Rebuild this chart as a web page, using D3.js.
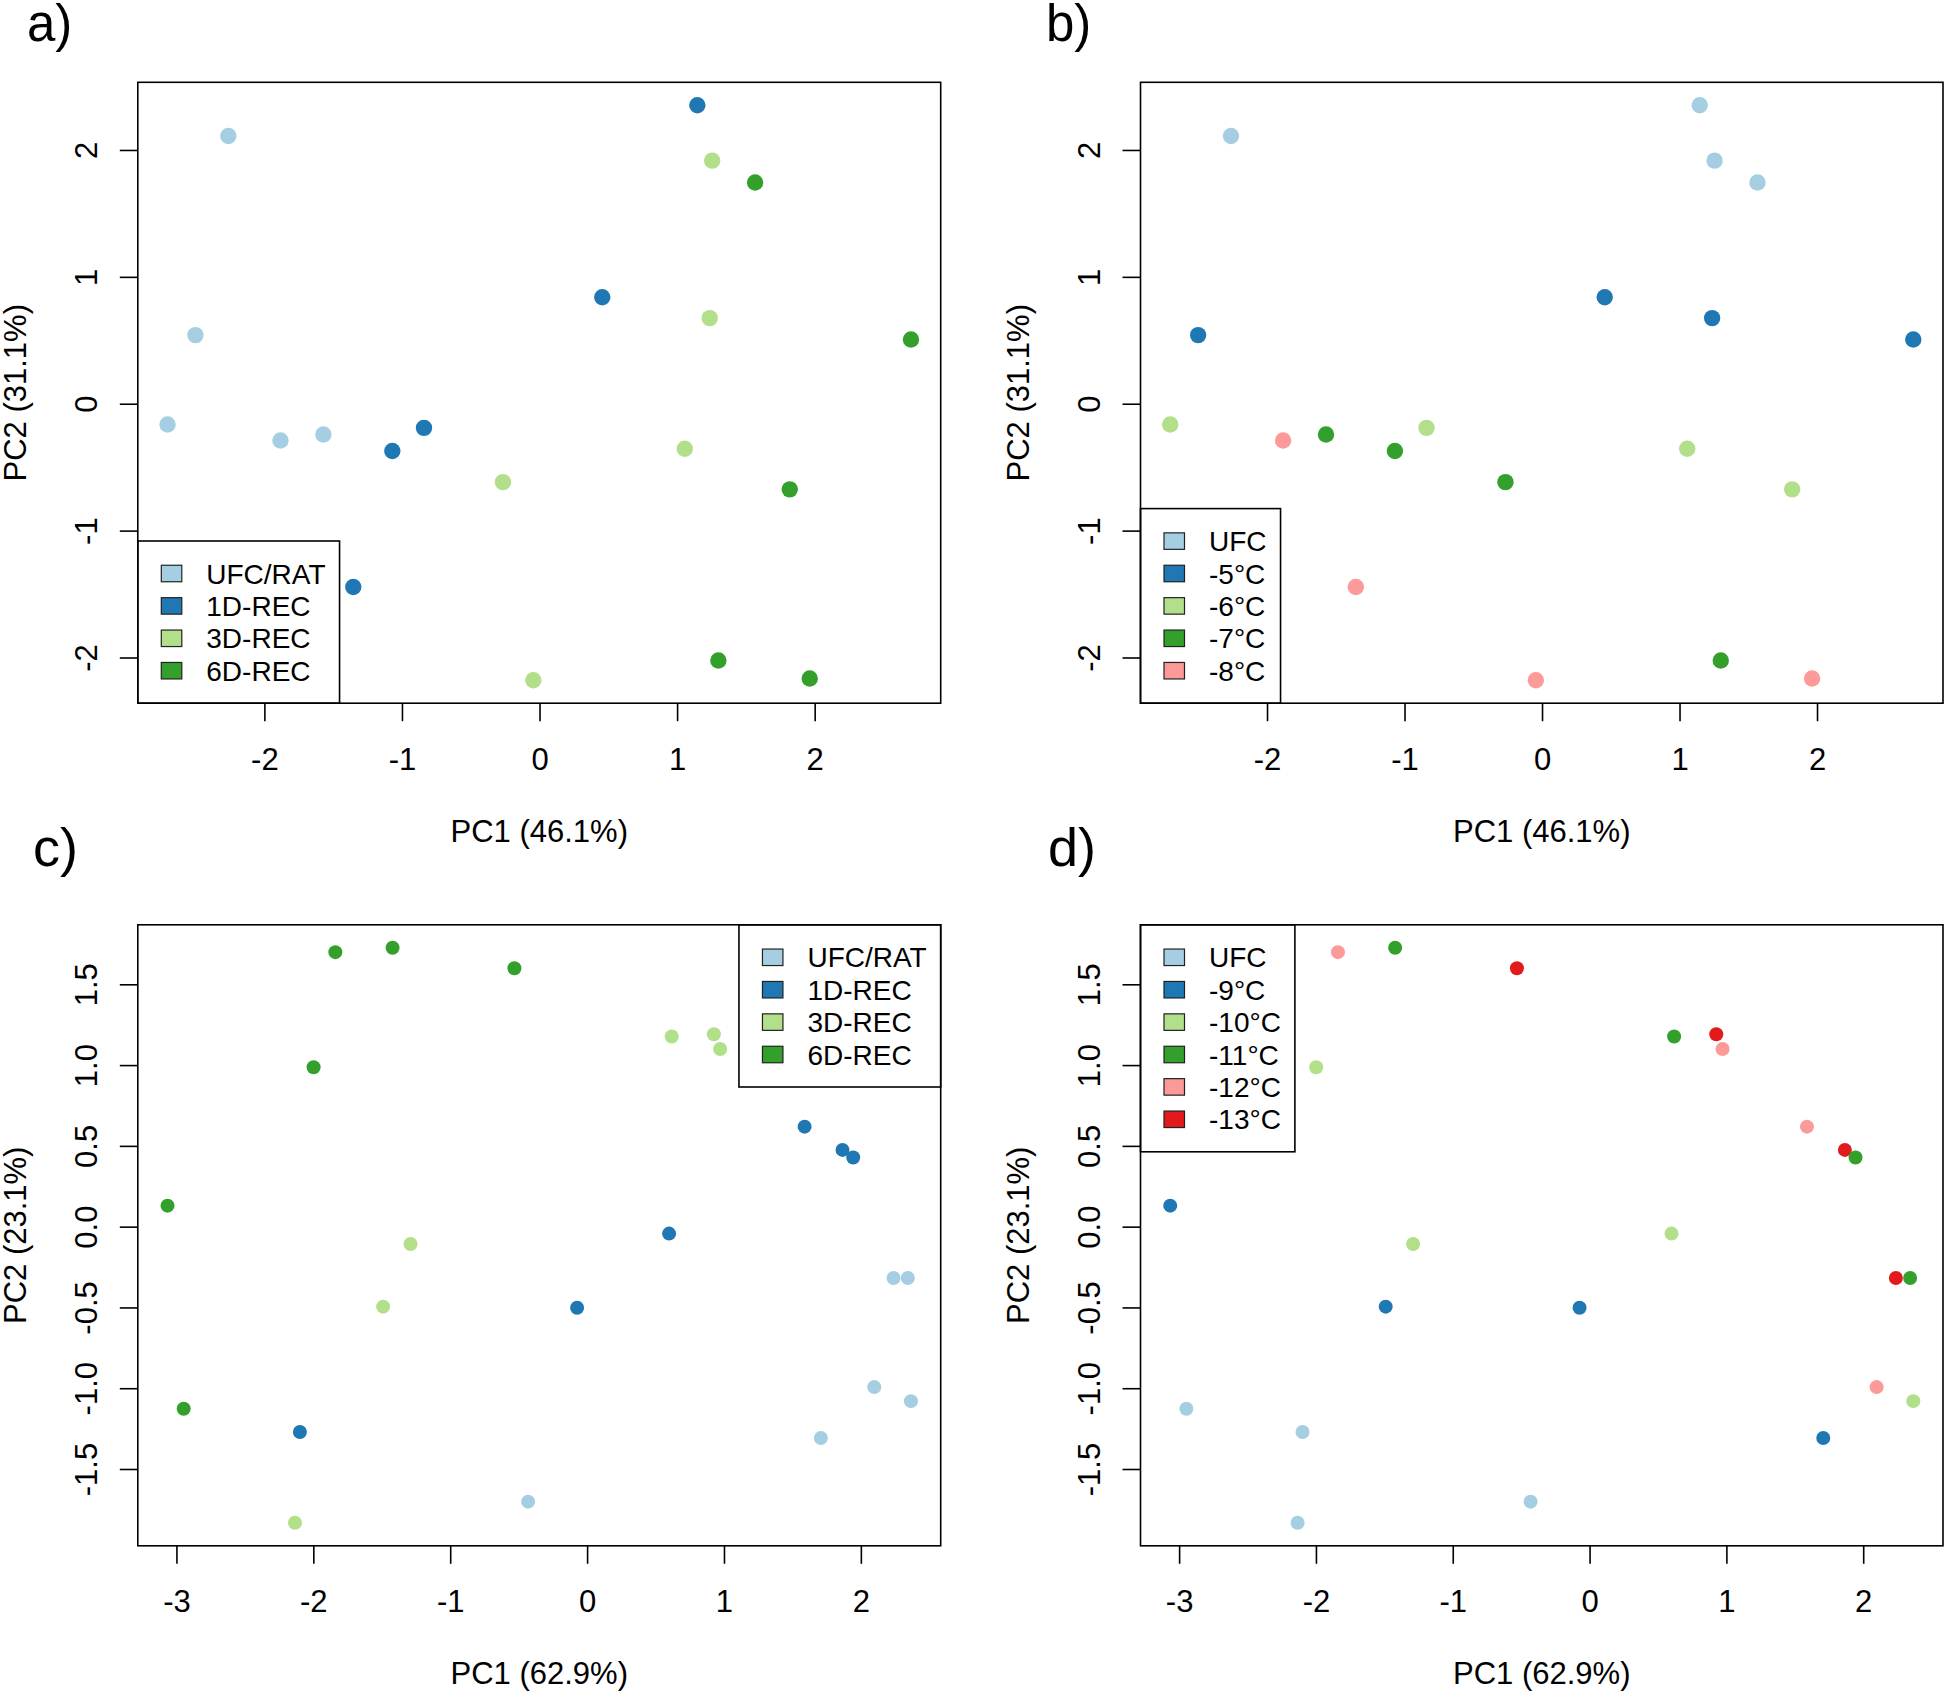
<!DOCTYPE html>
<html>
<head>
<meta charset="utf-8">
<script src="https://cdn.jsdelivr.net/npm/d3@7"></script>
<style>
  html, body { margin: 0; padding: 0; background: #ffffff; }
  svg { display: block; }
  text { font-family: "Liberation Sans", Arial, Helvetica, sans-serif; fill: #000; }
</style>
</head>
<body>
<svg id="chart" width="1946" height="1692"></svg>
<script>
// ---------------- DATA ----------------
// Top row (panels a & b): 20 samples
const pc1Top = [-2.262, -2.501, -2.704, -1.883, -1.571,
                 1.147,  0.456, -0.840, -1.070, -1.354,
                 1.255,  1.237,  1.056, -0.266, -0.045,
                 1.567,  2.700,  1.819,  1.300,  1.964];
const pc2Top = [ 2.110,  0.541, -0.164, -0.290, -0.242,
                 2.352,  0.839, -0.190, -0.372, -1.444,
                 1.916,  0.675, -0.355, -0.618, -2.179,
                 1.743,  0.506, -0.675, -2.024, -2.166];
const recoveryTop = ["UFC/RAT","UFC/RAT","UFC/RAT","UFC/RAT","UFC/RAT",
                     "1D-REC","1D-REC","1D-REC","1D-REC","1D-REC",
                     "3D-REC","3D-REC","3D-REC","3D-REC","3D-REC",
                     "6D-REC","6D-REC","6D-REC","6D-REC","6D-REC"];
const tempTop = ["UFC","-5°C","-6°C","-8°C","-7°C",
                 "UFC","-5°C","-6°C","-7°C","-8°C",
                 "UFC","-5°C","-6°C","-7°C","-8°C",
                 "UFC","-5°C","-6°C","-7°C","-8°C"];

// Bottom row (panels c & d): 24 samples
const pc1Bottom = [ 2.239,  2.343,  2.098,  2.366,  1.708, -0.431,
                    1.589,  1.866,  1.944,  0.599, -0.073, -2.098,
                    0.618,  0.926,  0.972, -1.290, -1.490, -2.134,
                   -1.839, -1.421, -0.531, -1.998, -3.065, -2.947];
const pc2Bottom = [-0.318, -0.318, -0.993, -1.080, -1.308, -1.702,
                    0.619,  0.475,  0.428, -0.043, -0.502, -1.271,
                    1.177,  1.191,  1.100, -0.107, -0.495, -1.833,
                    1.699,  1.726,  1.599,  0.987,  0.130, -1.127];
const recoveryBottom = ["UFC/RAT","UFC/RAT","UFC/RAT","UFC/RAT","UFC/RAT","UFC/RAT",
                        "1D-REC","1D-REC","1D-REC","1D-REC","1D-REC","1D-REC",
                        "3D-REC","3D-REC","3D-REC","3D-REC","3D-REC","3D-REC",
                        "6D-REC","6D-REC","6D-REC","6D-REC","6D-REC","6D-REC"];
const tempBottom = ["-13°C","-11°C","-12°C","-10°C","-9°C","UFC",
                    "-12°C","-13°C","-11°C","-10°C","-9°C","UFC",
                    "-11°C","-13°C","-12°C","-10°C","-9°C","UFC",
                    "-12°C","-11°C","-13°C","-10°C","-9°C","UFC"];

// Legend levels
const recoveryLevels = ["UFC/RAT", "1D-REC", "3D-REC", "6D-REC"];
const tempLevelsTop = ["UFC", "-5°C", "-6°C", "-7°C", "-8°C"];
const tempLevelsBottom = ["UFC", "-9°C", "-10°C", "-11°C", "-12°C", "-13°C"];

// Tick values
const xTicksTop = [-2, -1, 0, 1, 2];
const yTicksTop = [-2, -1, 0, 1, 2];
const xTicksBottom = [-3, -2, -1, 0, 1, 2];
const yTicksBottom = [-1.5, -1.0, -0.5, 0.0, 0.5, 1.0, 1.5];

// Axis titles
const xTitleTop = "PC1 (46.1%)", yTitleTop = "PC2 (31.1%)";
const xTitleBottom = "PC1 (62.9%)", yTitleBottom = "PC2 (23.1%)";

// Palette (RColorBrewer "Paired")
const palette = ["#A6CEE3", "#1F78B4", "#B2DF8A", "#33A02C", "#FB9A99", "#E31A1C"];

// ---------------- LAYOUT / STYLE ----------------
const svg = d3.select("#chart");
svg.append("rect").attr("width", 1946).attr("height", 1692).attr("fill", "#fff");

const panels = [
  { label: "a)", lx: 27, ly: 41, lsize: 51,
    box: { l: 137.8, t: 82.3, r: 940.7, b: 703.2 },
    xs: pc1Top, ys: pc2Top, groups: recoveryTop, levels: recoveryLevels,
    xTicks: xTicksTop, yTicks: yTicksTop, fmt: d3.format("d"),
    xTitle: xTitleTop, yTitle: yTitleTop, legend: "bottomleft", r: 8.2 },
  { label: "b)", lx: 1046, ly: 41, lsize: 51,
    box: { l: 1140.5, t: 82.3, r: 1943, b: 703.2 },
    xs: pc1Top, ys: pc2Top, groups: tempTop, levels: tempLevelsTop,
    xTicks: xTicksTop, yTicks: yTicksTop, fmt: d3.format("d"),
    xTitle: xTitleTop, yTitle: yTitleTop, legend: "bottomleft", r: 8.2 },
  { label: "c)", lx: 33, ly: 866, lsize: 54,
    box: { l: 137.8, t: 924.8, r: 940.7, b: 1545.8 },
    xs: pc1Bottom, ys: pc2Bottom, groups: recoveryBottom, levels: recoveryLevels,
    xTicks: xTicksBottom, yTicks: yTicksBottom, fmtX: d3.format("d"), fmt: d3.format(".1f"),
    xTitle: xTitleBottom, yTitle: yTitleBottom, legend: "topright", r: 7 },
  { label: "d)", lx: 1048, ly: 866, lsize: 54,
    box: { l: 1140.5, t: 924.8, r: 1943, b: 1545.8 },
    xs: pc1Bottom, ys: pc2Bottom, groups: tempBottom, levels: tempLevelsBottom,
    xTicks: xTicksBottom, yTicks: yTicksBottom, fmtX: d3.format("d"), fmt: d3.format(".1f"),
    xTitle: xTitleBottom, yTitle: yTitleBottom, legend: "topleft", r: 7 }
];

const tickFont = 31, titleFont = 31, legendFont = 28, tickLen = 18;

function padded(ext) {          // R-style 4% range extension
  const d = (ext[1] - ext[0]) * 0.04;
  return [ext[0] - d, ext[1] + d];
}

panels.forEach(p => {
  const g = svg.append("g");
  const B = p.box;
  const x = d3.scaleLinear().domain(padded(d3.extent(p.xs))).range([B.l, B.r]);
  const y = d3.scaleLinear().domain(padded(d3.extent(p.ys))).range([B.b, B.t]);
  const color = d3.scaleOrdinal().domain(p.levels).range(palette);

  // panel label
  g.append("text").attr("x", p.lx).attr("y", p.ly)
    .attr("font-size", p.lsize).text(p.label);

  // x axis
  const xfmt = p.fmtX || p.fmt;
  const xa = g.append("g").attr("transform", `translate(0,${B.b})`)
    .call(d3.axisBottom(x).tickValues(p.xTicks).tickSize(tickLen).tickSizeOuter(0).tickFormat(d => xfmt(d).replace("−", "-")));
  xa.select(".domain").remove();
  xa.selectAll(".tick line").attr("stroke", "#000").attr("stroke-width", 1.6);
  xa.selectAll(".tick text").attr("y", 66.5).attr("dy", null)
    .attr("font-size", tickFont).attr("font-family", "Liberation Sans, Arial, sans-serif").attr("fill", "#000");

  // y axis
  const ya = g.append("g").attr("transform", `translate(${B.l},0)`)
    .call(d3.axisLeft(y).tickValues(p.yTicks).tickSize(tickLen).tickSizeOuter(0).tickFormat(d => p.fmt(d).replace("−", "-")));
  ya.select(".domain").remove();
  ya.selectAll(".tick line").attr("stroke", "#000").attr("stroke-width", 1.6);
  ya.selectAll(".tick text")
    .attr("x", null).attr("dy", null).attr("y", null)
    .attr("transform", "translate(-41,0) rotate(-90)")
    .attr("text-anchor", "middle")
    .attr("font-size", tickFont).attr("font-family", "Liberation Sans, Arial, sans-serif").attr("fill", "#000");

  // axis titles
  g.append("text").attr("x", (B.l + B.r) / 2).attr("y", B.b + 138.5)
    .attr("text-anchor", "middle").attr("font-size", titleFont).text(p.xTitle);
  g.append("text")
    .attr("transform", `translate(${B.l - 112},${(B.t + B.b) / 2}) rotate(-90)`)
    .attr("text-anchor", "middle").attr("font-size", titleFont).text(p.yTitle);

  // points
  const idx = d3.range(p.xs.length);
  g.append("g").selectAll("circle").data(idx).join("circle")
    .attr("cx", i => x(p.xs[i]))
    .attr("cy", i => y(p.ys[i]))
    .attr("r", p.r)
    .attr("fill", i => color(p.groups[i]));

  // legend
  const rowH = 32.4, edge = 32.5, sqOff = 23.5, sqW = 20.5, sqH = 16.5, txtOff = 68.5, rightPad = 14;
  const lg = g.append("g");
  const texts = [];
  const nRows = p.levels.length;
  const boxH = edge * 2 + rowH * (nRows - 1);
  const tmp = lg.append("g");
  p.levels.forEach(l => {
    texts.push(tmp.append("text").attr("font-size", legendFont).text(l).node().getComputedTextLength());
  });
  tmp.remove();
  const boxW = txtOff + d3.max(texts) + rightPad;
  let bx, by;
  if (p.legend === "bottomleft") { bx = B.l; by = B.b - boxH; }
  else if (p.legend === "topright") { bx = B.r - boxW; by = B.t; }
  else { bx = B.l; by = B.t; }
  lg.append("rect").attr("x", bx).attr("y", by).attr("width", boxW).attr("height", boxH)
    .attr("fill", "#fff").attr("stroke", "#000").attr("stroke-width", 1.6);
  p.levels.forEach((l, i) => {
    const cy = by + edge + i * rowH;
    lg.append("rect").attr("x", bx + sqOff).attr("y", cy - sqH / 2)
      .attr("width", sqW).attr("height", sqH)
      .attr("fill", color(l)).attr("stroke", "#222").attr("stroke-width", 1.2);
    lg.append("text").attr("x", bx + txtOff).attr("y", cy + 10)
      .attr("font-size", legendFont).text(l);
  });

  // plot box
  g.append("rect").attr("x", B.l).attr("y", B.t).attr("width", B.r - B.l).attr("height", B.b - B.t)
    .attr("fill", "none").attr("stroke", "#000").attr("stroke-width", 1.6);
});
</script>
</body>
</html>
